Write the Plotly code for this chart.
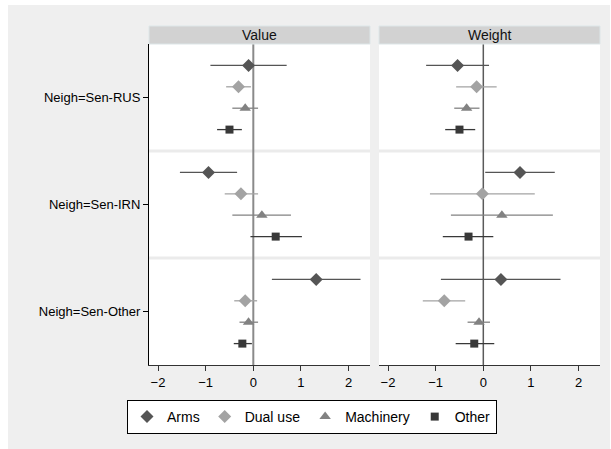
import plotly.graph_objects as go
from plotly.subplots import make_subplots

rows = ["Neigh=Sen-RUS", "Neigh=Sen-IRN", "Neigh=Sen-Other"]
panels = ["Value", "Weight"]
series = ["Arms", "Dual use", "Machinery", "Other"]

# point estimates and confidence bounds, per series, per row
value_pt = {
    "Arms":      [-0.10, -0.94, 1.32],
    "Dual use":  [-0.31, -0.26, -0.17],
    "Machinery": [-0.17, 0.18, -0.10],
    "Other":     [-0.50, 0.47, -0.23],
}
value_lo = {
    "Arms":      [-0.90, -1.54, 0.39],
    "Dual use":  [-0.57, -0.60, -0.40],
    "Machinery": [-0.44, -0.44, -0.29],
    "Other":     [-0.76, -0.06, -0.41],
}
value_hi = {
    "Arms":      [0.70, -0.34, 2.25],
    "Dual use":  [-0.05, 0.10, 0.08],
    "Machinery": [0.10, 0.79, 0.10],
    "Other":     [-0.24, 1.02, -0.03],
}
weight_pt = {
    "Arms":      [-0.54, 0.77, 0.37],
    "Dual use":  [-0.14, -0.02, -0.82],
    "Machinery": [-0.35, 0.39, -0.09],
    "Other":     [-0.50, -0.31, -0.19],
}
weight_lo = {
    "Arms":      [-1.20, 0.04, -0.89],
    "Dual use":  [-0.57, -1.12, -1.27],
    "Machinery": [-0.61, -0.68, -0.33],
    "Other":     [-0.80, -0.85, -0.58],
}
weight_hi = {
    "Arms":      [0.12, 1.50, 1.62],
    "Dual use":  [0.28, 1.08, -0.38],
    "Machinery": [-0.08, 1.46, 0.14],
    "Other":     [-0.17, 0.21, 0.23],
}

offsets = {"Arms": -0.3, "Dual use": -0.1, "Machinery": 0.1, "Other": 0.3}
colors = {"Arms": "#555555", "Dual use": "#a3a3a3", "Machinery": "#828282", "Other": "#383838"}
symbols = {"Arms": "diamond", "Dual use": "diamond", "Machinery": "triangle-up", "Other": "square"}
sizes = {"Arms": 10, "Dual use": 10, "Machinery": 10, "Other": 8}

W, H = 611, 449
fig = make_subplots(rows=1, cols=2, shared_yaxes=True, horizontal_spacing=0.02)

data = [(value_pt, value_lo, value_hi), (weight_pt, weight_lo, weight_hi)]
for ci, (pt, lo, hi) in enumerate(data):
    for s in series:
        ys = [i + 1 + offsets[s] for i in range(len(rows))]
        fig.add_trace(go.Scatter(
            x=pt[s], y=ys, mode="markers", name=s,
            legendgroup=s, showlegend=(ci == 0),
            marker=dict(symbol=symbols[s], size=sizes[s], color=colors[s]),
            error_x=dict(type="data", symmetric=False,
                         array=[h - p for h, p in zip(hi[s], pt[s])],
                         arrayminus=[p - l for p, l in zip(pt[s], lo[s])],
                         color=colors[s], thickness=1.3, width=0),
        ), row=1, col=ci + 1)

x0L, x1L = 149 / W, 370 / W
x0R, x1R = 379 / W, 600 / W
y0, y1 = (H - 365) / H, (H - 44) / H
ys0, ys1 = y1, (H - 26) / H
xr = [-2.189, 2.449]

axis_font = dict(family="Liberation Sans, Arial, sans-serif", size=13, color="#000")
for ax, dom in (("xaxis", [x0L, x1L]), ("xaxis2", [x0R, x1R])):
    fig.layout[ax].update(domain=dom, range=xr, tickvals=[-2, -1, 0, 1, 2],
                          ticks="outside", ticklen=5, tickcolor="#333", showgrid=False,
                          zeroline=False, showline=True, linecolor="#333", linewidth=1,
                          tickfont=axis_font)
fig.layout.yaxis.update(domain=[y0, y1], range=[3.5, 0.5], tickvals=[1, 2, 3], ticktext=rows,
                        ticks="outside", ticklen=5, tickcolor="#000", showgrid=False,
                        zeroline=False, showline=True, linecolor="#000", linewidth=1,
                        tickfont=axis_font)
fig.layout.yaxis2.update(domain=[y0, y1], range=[3.5, 0.5], showgrid=False, zeroline=False,
                         showline=False, ticks="")

shapes = [dict(type="rect", xref="paper", yref="paper", x0=8 / W, x1=610 / W, y0=0, y1=(H - 5) / H,
               fillcolor="#efefef", line=dict(width=0), layer="below")]
for (a, b) in ((x0L, x1L), (x0R, x1R)):
    shapes.append(dict(type="rect", xref="paper", yref="paper", x0=a, x1=b, y0=y0, y1=y1,
                       fillcolor="#ffffff", line=dict(width=0), layer="below"))
    shapes.append(dict(type="rect", xref="paper", yref="paper", x0=a, x1=b, y0=ys0, y1=ys1,
                       fillcolor="#d2d2d2", line=dict(width=1, color="#dde6e8")))
for xa, ya in (("x", "y"), ("x2", "y2")):
    for yv in (1.5, 2.5):
        shapes.append(dict(type="line", xref=xa + " domain", yref=ya, x0=0, x1=1, y0=yv, y1=yv,
                           line=dict(color="#ebebeb", width=3), layer="below"))
shapes.append(dict(type="line", xref="x", yref="y domain", x0=0, x1=0, y0=0, y1=1,
                   line=dict(color="#8a8a8a", width=2), layer="below"))
shapes.append(dict(type="line", xref="x2", yref="y2 domain", x0=0, x1=0, y0=0, y1=1,
                   line=dict(color="#5a5a5a", width=1.5), layer="below"))
fig.update_layout(shapes=shapes)

anns = []
for name, (a, b) in zip(panels, ((x0L, x1L), (x0R, x1R))):
    anns.append(dict(text=name, x=(a + b) / 2, y=(ys0 + ys1) / 2, xref="paper", yref="paper",
                     showarrow=False, xanchor="center", yanchor="middle",
                     font=dict(family="Liberation Sans, Arial, sans-serif", size=14, color="#111")))
fig.update_layout(annotations=anns)

fig.update_layout(
    width=W, height=H, margin=dict(l=0, r=0, t=0, b=0),
    paper_bgcolor="#ffffff", plot_bgcolor="rgba(0,0,0,0)",
    showlegend=True,
    legend=dict(orientation="h", x=127 / W, y=(H - 400) / H, xanchor="left", yanchor="top",
                bgcolor="#ffffff", bordercolor="#000", borderwidth=1,
                font=dict(family="Liberation Sans, Arial, sans-serif", size=14, color="#000"),
                itemwidth=30, tracegroupgap=0),
)

fig.write_html("out.html", config={"displayModeBar": False},
               post_script="document.body.style.margin='0';document.body.style.padding='0';")
